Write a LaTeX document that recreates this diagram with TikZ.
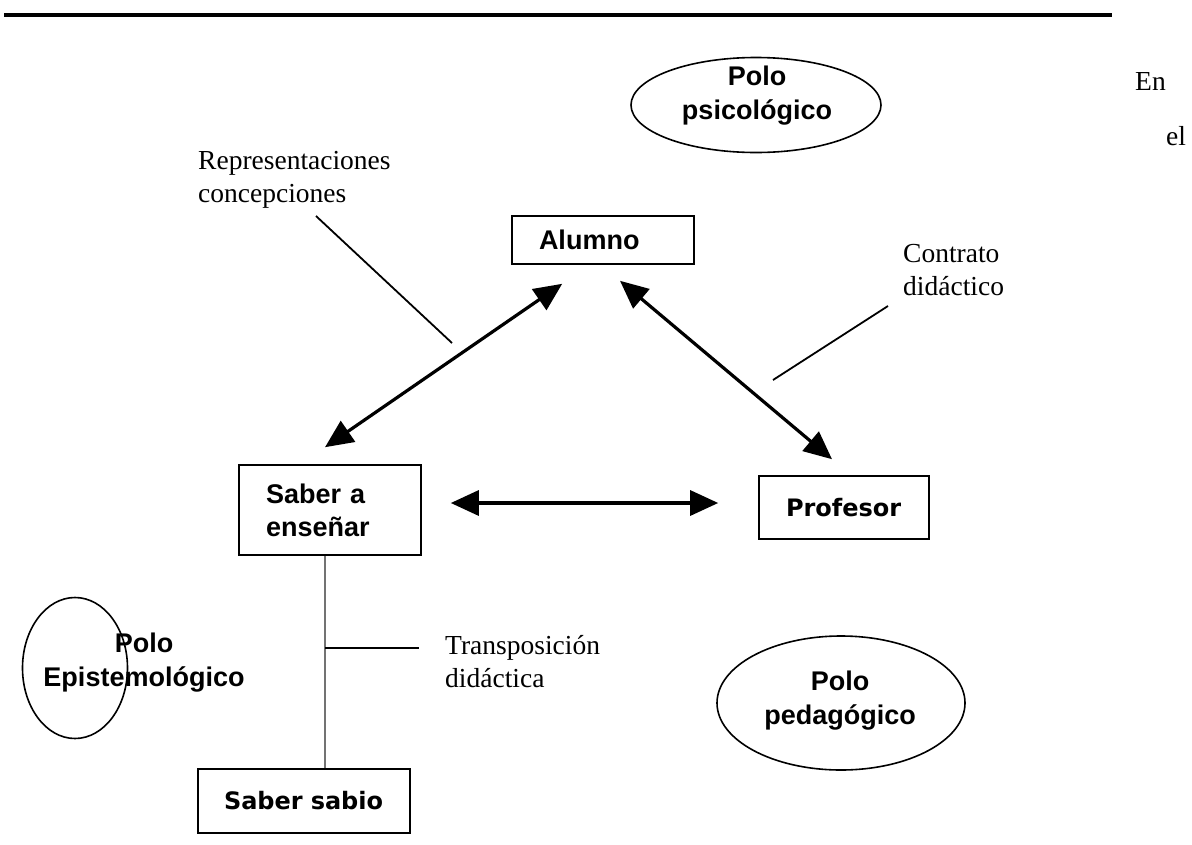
\documentclass[tikz,border=0pt]{standalone}
\usepackage{fontspec}
\setmainfont{Liberation Serif}
\setsansfont{Liberation Sans}
\newfontfamily\comicfont{DejaVu Sans}
\usepackage{tikz}
\usetikzlibrary{positioning}
\usetikzlibrary{calc}
\usetikzlibrary{arrows.meta}
\usetikzlibrary{shapes}

\begin{document}
\begin{tikzpicture}[x=1pt,y=-1pt]
	\tikzstyle{caja}=[rectangle, draw=black, line width=1.6pt, align=left, inner xsep=27pt, inner ysep=0pt, font=\sffamily\bfseries\fontsize{27}{33}\selectfont]
	\tikzstyle{cajac}=[caja, font=\comicfont\bfseries\fontsize{24}{30}\selectfont]
	\tikzstyle{polo}=[ellipse, draw=black, line width=1.6pt, inner sep=0pt]
	\tikzstyle{polotxt}=[align=center, inner sep=0pt, font=\sffamily\bfseries\fontsize{27}{34}\selectfont]
	\tikzstyle{nota}=[align=left, inner sep=0pt, anchor=base west, font=\fontsize{27.5}{33}\selectfont]
	\tikzstyle{flecha}=[{Triangle[length=28pt,width=25pt]}-{Triangle[length=28pt,width=25pt]}, line width=3.2pt]
	\tikzstyle{linea}=[line width=1.8pt]
	
	\useasboundingbox (0,0) rectangle (1192,844);
	\draw [line width=4pt] (4,15) -- (1112,15);
	
	\node at (1135,90) [nota] (en) {En};
	\node at (1166,145) [nota] (el) {el};
	
	% polos
	\draw node at (756,105) [polo, minimum width=250pt, minimum height=95pt] (psico) {};
	\node at (757,96) [polotxt] (psicotxt) {Polo\\psicológico};
	\draw node at (75,668) [polo, minimum width=105pt, minimum height=141pt] (episte) {};
	\node at (144,663) [polotxt] (epistetxt) {Polo\\Epistemológico};
	\draw node at (841,703) [polo, minimum width=248pt, minimum height=134pt] (pedago) {};
	\node at (840,701) [polotxt] (pedagotxt) {Polo\\pedagógico};
	
	% cajas
	\draw node at (603,240) [caja, minimum height=48pt, text width=128pt] (alumno) {Alumno};
	\draw node at (330,510) [caja, minimum height=90pt, text width=128pt] (saber) {Saber a\\enseñar};
	\draw node at (844,507.5) [cajac, minimum height=63pt, text width=116pt] (profesor) {Profesor};
	\draw node at (304,801) [cajac, minimum height=64pt, text width=160pt, inner xsep=26pt] (sabio) {Saber sabio};
	
	\coordinate (a1) at ($(alumno.south west)+(51,19)$);
	\coordinate (s1) at ($(saber.north)+(-5,-17)$);
	\coordinate (a2) at ($(alumno.south)+(17,16)$);
	\coordinate (p1) at ($(profesor.north)+(-12,-16)$);
	\coordinate (s2) at ($(saber.east)+(29,-7)$);
	\coordinate (p2) at ($(profesor.west)+(-40,-4.5)$);
	
	\draw [flecha] (s1) -- (a1);
	\draw [flecha] (a2) -- (p1);
	\draw [flecha] (s2) -- (p2);
	
	% notas
	\node at (198,202) [nota] (repres) {Representaciones\\concepciones};
	\coordinate (r1) at (316,216);
	\coordinate (r2) at (452,343);
	\draw [linea] (r1) -- (r2);
	
	\node at (903,295) [nota] (contrato) {Contrato\\didáctico};
	\coordinate (c1) at (888,306);
	\coordinate (c2) at (773,380);
	\draw [linea] (c1) -- (c2);
	
	\coordinate (t0) at ($(saber.south)+(-5,0)$);
	\draw [line width=2.5pt, black!55] (t0) -- (t0 |- sabio.north);
	\coordinate (t1) at (t0 |- 0,648);
	\node at (445,687) [nota] (transpo) {Transposición\\didáctica};
	\draw [linea] (t1) -- ++(94,0);
\end{tikzpicture}
\end{document}
